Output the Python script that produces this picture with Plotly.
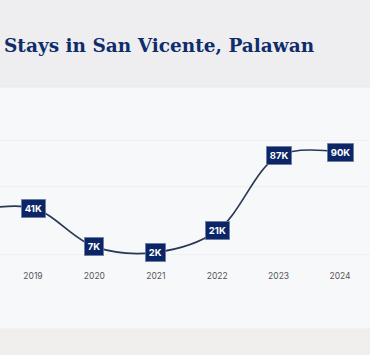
import plotly.graph_objects as go

years = [2018, 2019, 2020, 2021, 2022, 2023, 2024]
stays = [38000, 41000, 7000, 2000, 21000, 87000, 90000]
labels = ["38K", "41K", "7K", "2K", "21K", "87K", "90K"]
tick_years = [2019, 2020, 2021, 2022, 2023, 2024]
tick_text = ["2019", "2020", "2021", "2022", "2023", "2024"]
grid_vals = [0, 60000, 100000]
title_text = "Stays in San Vicente, Palawan"

W, H = 370, 355
top, bottom_px = 87, 262
plot_h = bottom_px - top

fig = go.Figure()
fig.add_trace(go.Scatter(
    x=years, y=stays, mode="lines",
    line=dict(color="#2a3856", width=1.7, shape="spline", smoothing=1.0),
    hoverinfo="skip", showlegend=False, cliponaxis=False,
))

annotations = []
for xv, yv, t in zip(years, stays, labels):
    annotations.append(dict(
        x=xv, y=yv, xref="x", yref="y", text="<b>" + t + "</b>",
        showarrow=False, xanchor="center", yanchor="middle",
        font=dict(family="Inter, sans-serif", size=9.5, color="#ffffff"),
        bgcolor="#0b2566", bordercolor="#8290b2", borderwidth=0.6, borderpad=3.2,
    ))
annotations.append(dict(
    x=0, y=(H - 45 - (H - bottom_px)) / plot_h, xref="paper", yref="paper",
    xshift=2, text="<b>" + title_text + "</b>", showarrow=False,
    xanchor="left", yanchor="middle",
    font=dict(family="DejaVu Serif, serif", size=18.5, color="#0f2d6b"),
))

card_y0 = -(329 - bottom_px) / plot_h
card_y1 = 1.0
shapes = [
    dict(type="rect", xref="paper", yref="paper", x0=-0.01, x1=1.01,
         y0=card_y0, y1=card_y1, fillcolor="#f7f8f9",
         line=dict(color="#e6e7eb", width=0.8), layer="below"),
    dict(type="rect", xref="paper", yref="paper", x0=-0.01, x1=1.01,
         y0=-(H - bottom_px) / plot_h - 0.05, y1=card_y0,
         fillcolor="#f1efee", line=dict(width=0), layer="below"),
]

fig.update_layout(
    width=W, height=H,
    margin=dict(l=0, r=0, t=top, b=H - bottom_px, pad=0),
    paper_bgcolor="#eeeef0", plot_bgcolor="rgba(0,0,0,0)",
    annotations=annotations, shapes=shapes,
    xaxis=dict(
        range=[2019 - 33 / 61.4, 2019 + 337 / 61.4],
        tickmode="array", tickvals=tick_years, ticktext=tick_text,
        showgrid=False, zeroline=False, showline=False, ticks="",
        tickfont=dict(family="Inter, sans-serif", size=8.5, color="#55555a"),
        ticklabelstandoff=7,
    ),
    yaxis=dict(
        range=[-6500, 147500], tickmode="array", tickvals=grid_vals,
        showticklabels=False, showgrid=True, gridcolor="rgba(225,227,232,0.35)",
        gridwidth=0.8, zeroline=False, showline=False,
    ),
)

fig.write_html("out.html")
